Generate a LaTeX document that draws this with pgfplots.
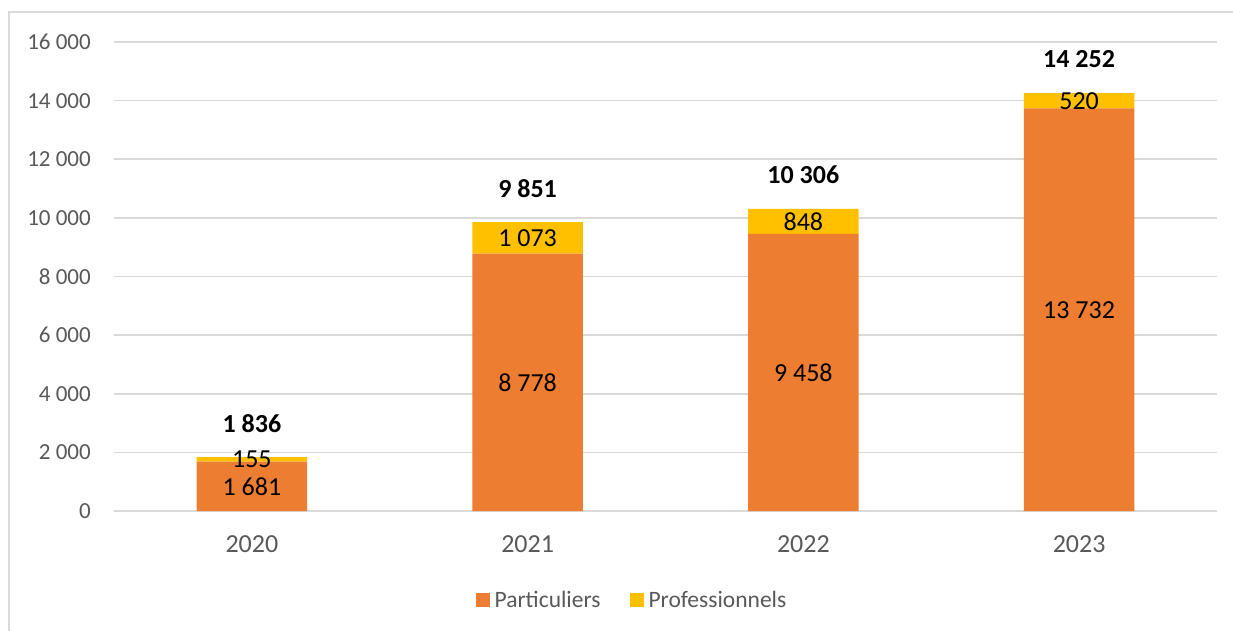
\documentclass[border=0pt]{standalone}
\usepackage{fontspec}
\setmainfont{Carlito}
\usepackage{pgfplots}
\pgfplotsset{compat=1.18}
\definecolor{cPart}{HTML}{ED7D31}
\definecolor{cPro}{HTML}{FFC000}
\definecolor{cGrid}{HTML}{D9D9D9}
\definecolor{cText}{HTML}{595959}
\pgfplotsset{
  common/.style={
    at={(114pt,119pt)}, anchor=south west,
    scale only axis, width=1103pt, height=469pt,
    xmin=-0.5, xmax=3.5, ymin=0, ymax=16000,
  }
}
\begin{document}
\begin{tikzpicture}[x=1pt,y=1pt]
\path[use as bounding box] (0,0) rectangle (1233,630);
\draw[cGrid, line width=1.5pt] (9,-5) -- (9,618) -- (1240,618);
\begin{axis}[
  common,
  ybar stacked, bar width=0.4,
  axis line style={draw=none},
  major tick length=0pt,
  scaled y ticks=false,
  xtick={0,1,2,3}, xticklabels={2020,2021,2022,2023},
  ytick={0,2000,4000,6000,8000,10000,12000,14000,16000},
  yticklabels={0,2 000,4 000,6 000,8 000,10 000,12 000,14 000,16 000},
  ymajorgrids, grid style={cGrid, line width=1.5pt},
  yticklabel style={font=\fontsize{23}{28}\selectfont, text=cText, inner sep=0pt, anchor=east, xshift=-23pt},
  xticklabel style={font=\fontsize{26}{31}\selectfont, text=cText, inner sep=0pt, anchor=north, yshift=-24pt},
  legend columns=2,
  legend style={draw=none, fill=none, at={(0.4687,-0.1898)}, anchor=center,
    font=\fontsize{23.5}{28}\selectfont, text=cText,
    nodes={inner sep=0pt}, cells={anchor=west},
    /tikz/every even column/.append style={column sep=29pt},
    /tikz/every odd column/.append style={column sep=5pt}},
  legend image code/.code={\fill[#1] (0pt,-7pt) rectangle (14pt,7pt);},
]
\addplot[fill=cPart, draw=none] coordinates {(0,1681) (1,8778) (2,9458) (3,13732)};
\addplot[fill=cPro, draw=none] coordinates {(0,155) (1,1073) (2,848) (3,520)};
\legend{Particuliers, Professionnels}
\end{axis}
\begin{axis}[common, hide axis, clip=false]
\addplot[only marks, mark=none, nodes near coords, point meta=explicit symbolic,
  nodes near coords style={anchor=center, font=\fontsize{26}{31}\selectfont, text=black, inner sep=0pt}]
  table[col sep=comma, meta=label] {
x,y,label
0,840.5,{1 681}
1,4389,{8 778}
2,4729,{9 458}
3,6866,{13 732}
0,1758.5,{155}
1,9314.5,{1 073}
2,9882,{848}
3,13992,{520}
};
\addplot[only marks, mark=none, nodes near coords, point meta=explicit symbolic,
  nodes near coords style={anchor=center, yshift=34pt, font=\fontsize{26}{31}\selectfont\bfseries, text=black, inner sep=0pt}]
  table[col sep=comma, meta=label] {
x,y,label
0,1836,{1 836}
1,9851,{9 851}
2,10306,{10 306}
3,14252,{14 252}
};
\end{axis}
\end{tikzpicture}
\end{document}
